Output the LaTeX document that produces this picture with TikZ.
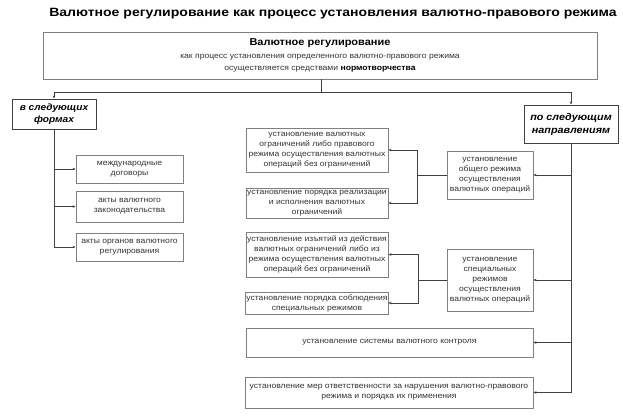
\documentclass[tikz,border=0pt]{standalone}
\usepackage{fontspec}
\setmainfont{Liberation Sans}[FakeStretch=1.1]
\newfontfamily\titlefont{Liberation Sans}[FakeStretch=1.17]
\usetikzlibrary{arrows.meta}
\definecolor{boxline}{HTML}{808080}
\definecolor{conline}{HTML}{404040}
\definecolor{txt}{HTML}{333333}
\tikzset{
  box/.style={draw=boxline, line width=0.9pt, fill=white, inner sep=0.5pt, align=center,
    font=\fontsize{7.8}{10}\selectfont, text=txt},
  headbox/.style={box, line width=1pt, draw=conline, font=\fontsize{9.8}{13}\bfseries\itshape\selectfont, text=black},
  con/.style={draw=conline, line width=0.8pt},
  arr/.style={con, -{Stealth[length=3pt,width=2.6pt]}}
}
\newcommand{\bx}[7]{% name, x1,y1,x2,y2, style, text
  \node[#6, minimum width=#4pt-#2pt, minimum height=#5pt-#3pt]
    (#1) at ({(#2+#4)/2},{(#3+#5)/2}) {#7};}
\begin{document}
\begin{tikzpicture}[x=1pt,y=-1pt]
\useasboundingbox (0,0) rectangle (623,416);
\node[font=\titlefont\fontsize{12}{14}\bfseries\selectfont, inner sep=0] (title) at (333,14)
  {Валютное регулирование как процесс установления валютно-правового режима};
\bx{top}{43}{32}{597}{79}{box, font=\fontsize{7.8}{12.5}\selectfont}{{\fontsize{10}{12.5}\bfseries\selectfont\color{black}Валютное регулирование}\\
  как процесс установления определенного валютно-правового режима\\
  осуществляется средствами {\bfseries\color{black}нормотворчества}}
\bx{L}{12}{99}{96}{129}{headbox, font=\fontsize{9.2}{12.5}\bfseries\itshape\selectfont}{в следующих\\формах}
\bx{R}{524}{105}{618}{143}{headbox}{по следующим\\направлениям}
\bx{L1}{76}{155}{183}{183}{box}{международные\\договоры}
\bx{L2}{76}{191}{183}{222}{box}{акты валютного\\законодательства}
\bx{L3}{76}{233}{183}{261}{box}{акты органов валютного\\регулирования}
\bx{G}{447}{151}{533}{199}{box}{установление\\общего режима\\осуществления\\валютных операций}
\bx{A}{246}{128}{388}{172}{box}{установление валютных\\ограничений либо правового\\режима осуществления валютных\\операций без ограничений}
\bx{B}{246}{188}{388}{218}{box}{установление порядка реализации\\и исполнения валютных\\ограничений}
\bx{S}{447}{249}{533}{311}{box}{установление\\специальных\\режимов\\осуществления\\валютных операций}
\bx{C}{246}{232}{388}{277}{box}{установление изъятий из действия\\валютных ограничений либо из\\режима осуществления валютных\\операций без ограничений}
\bx{D}{246}{292}{388}{314}{box}{установление порядка соблюдения\\специальных режимов}
\bx{K}{246}{328}{533}{357}{box}{установление системы валютного контроля}
\bx{M}{245}{377}{533}{408}{box}{установление мер ответственности за нарушения валютно-правового\\режима и порядка их применения}
% top connectors
\coordinate (j) at (321,92);
\draw[con] (top.south -| j) -- (j);
\draw[arr] (j) -| (L.north);
\draw[arr] (j) -| (R.north);
% left spine
\draw[arr] (L.south) |- (L1.west);
\draw[arr] (L.south) |- (L2.west);
\draw[arr] (L.south) |- (L3.west);
% right spine
\draw[arr] (R.south) |- (G.east);
\draw[arr] (R.south) |- (S.east);
\draw[arr] (R.south) |- (K.east);
\draw[arr] (R.south) |- (M.east);
% general regime branches
\coordinate (ga) at (417,175);
\draw[con] (G.west) -- (ga);
\draw[arr] (ga) |- (A.east);
\draw[arr] (ga) |- (B.east);
% special regime branches
\coordinate (sc) at (418,280);
\draw[con] (S.west) -- (sc);
\draw[arr] (sc) |- (C.east);
\draw[arr] (sc) |- (D.east);
\end{tikzpicture}
\end{document}
